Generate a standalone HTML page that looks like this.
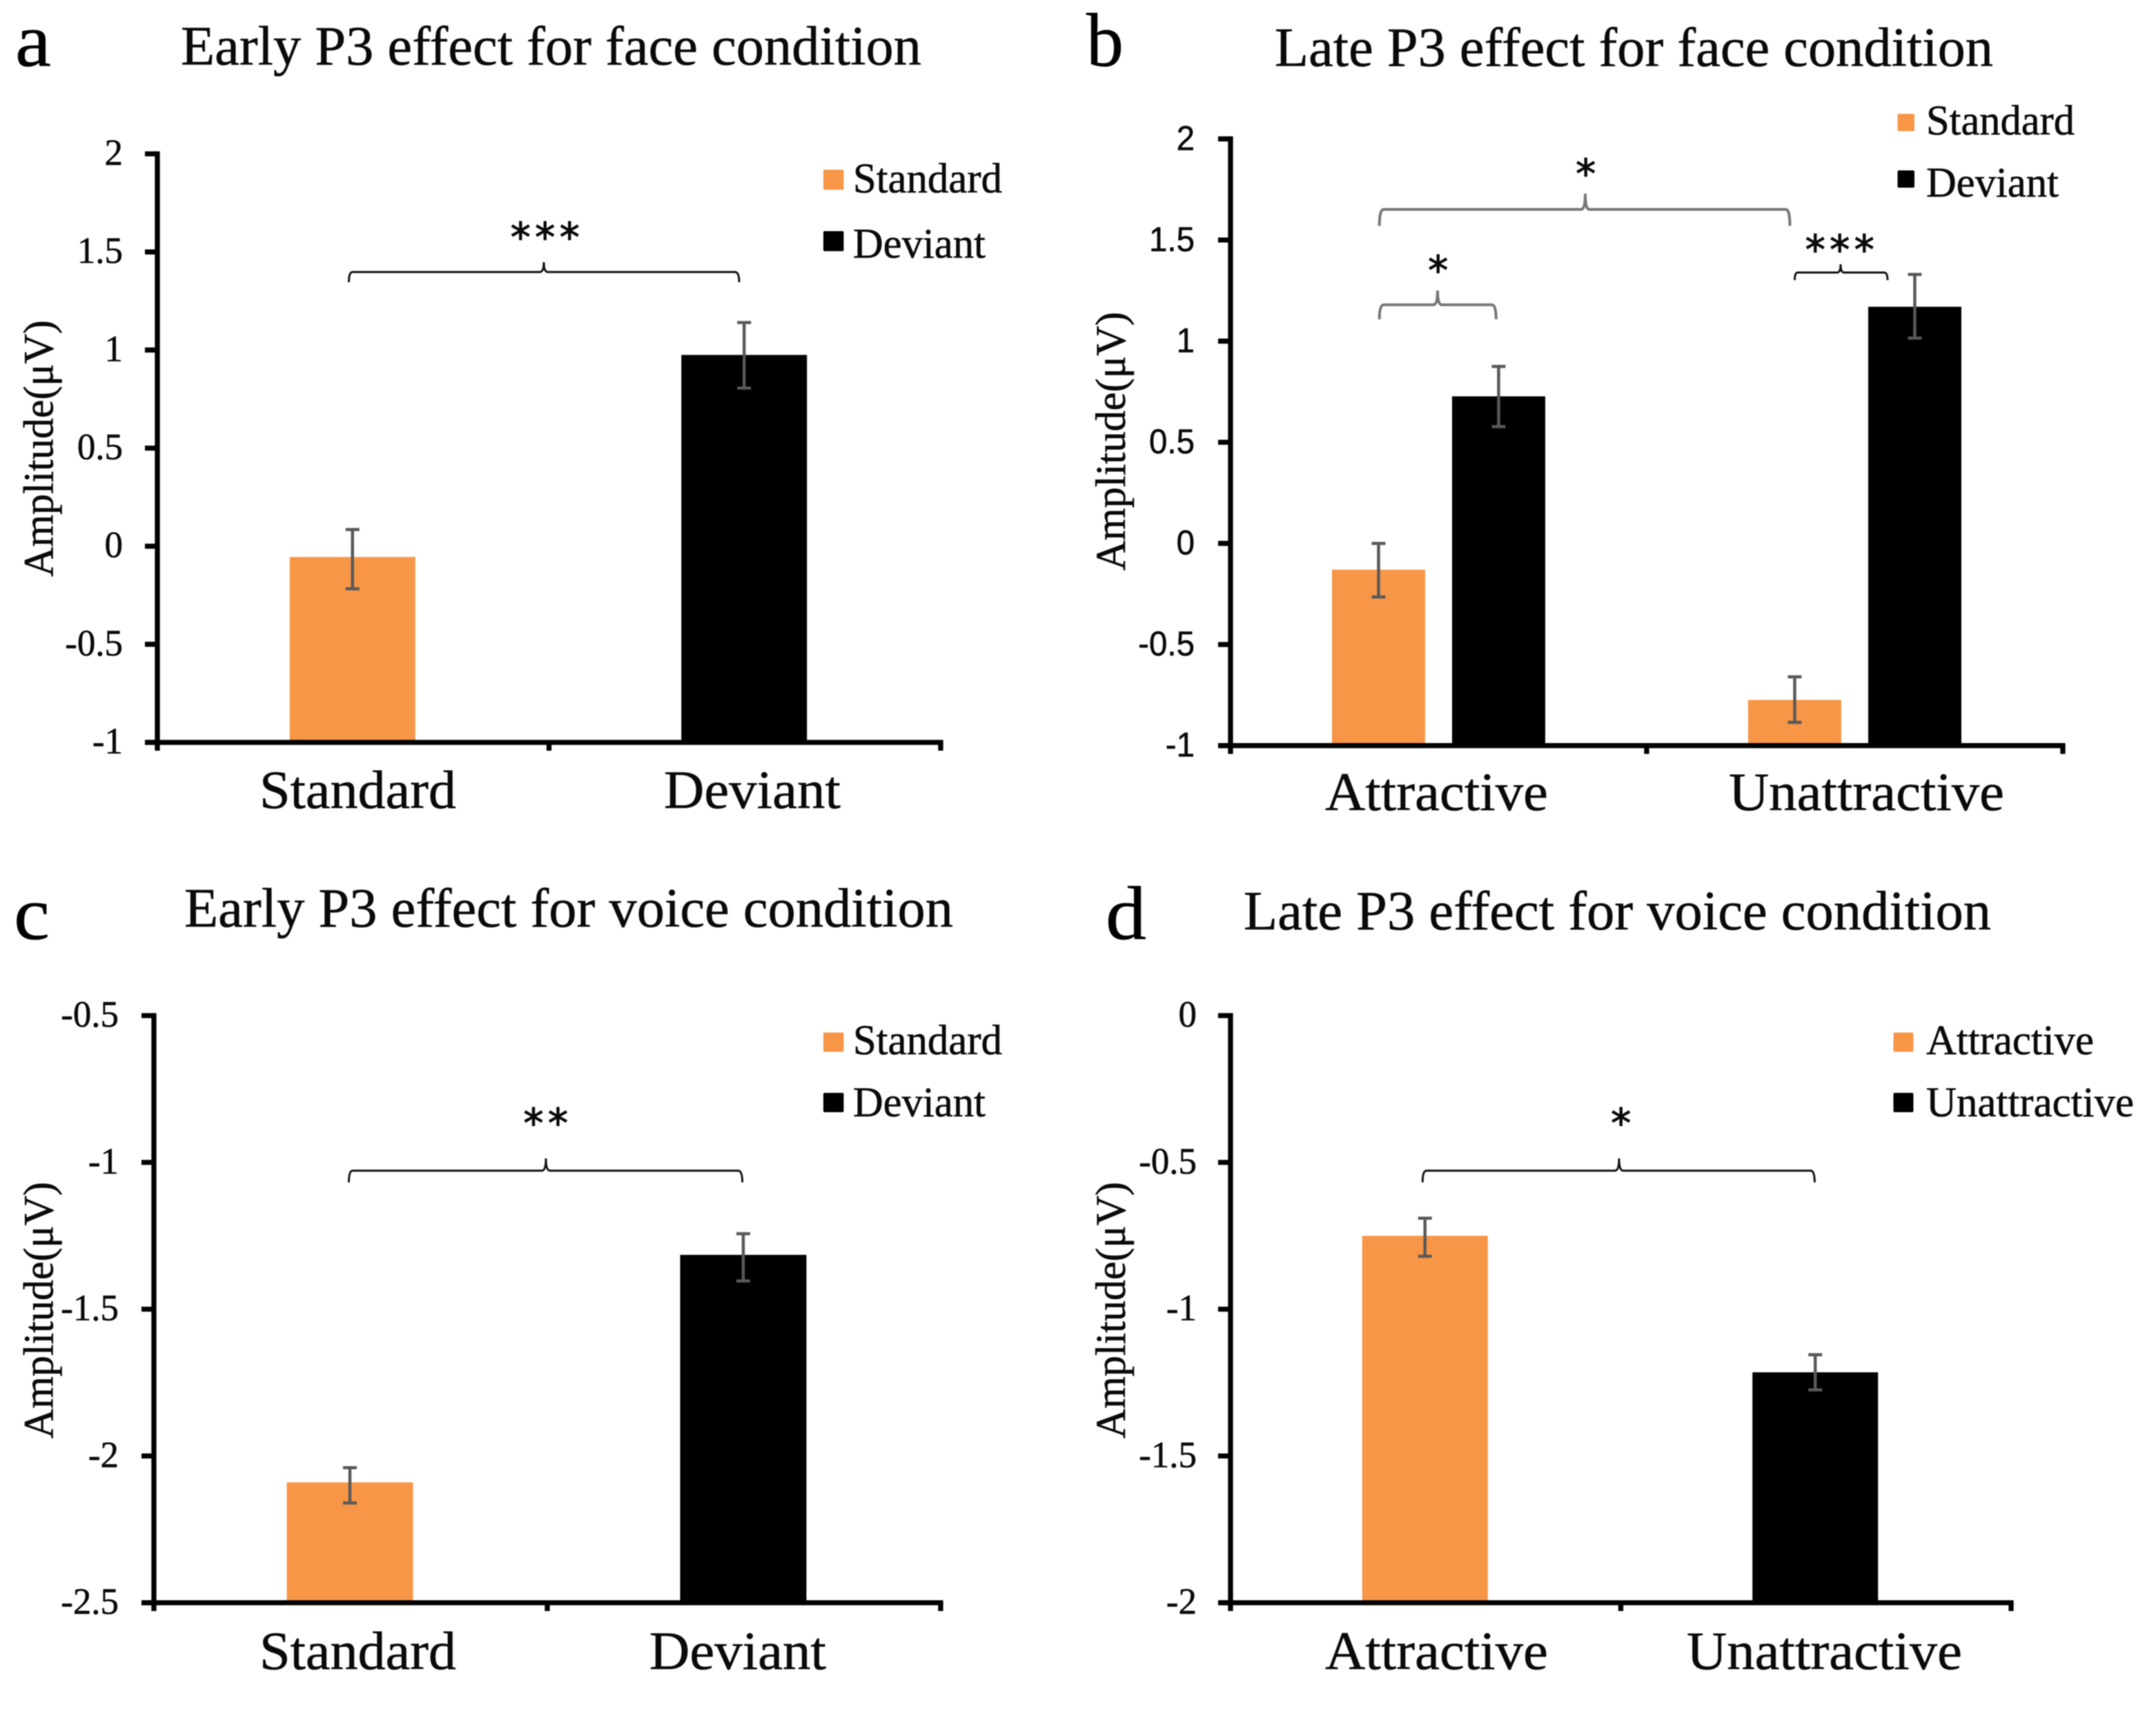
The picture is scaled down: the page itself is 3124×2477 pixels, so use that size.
<!DOCTYPE html>
<html lang="en">
<head>
<meta charset="utf-8">
<title>P3 effects for face and voice conditions</title>
<style>
html,body{margin:0;padding:0;background:#fff}
svg{display:block;filter:blur(0.7px)}
text{font-family:"Liberation Serif","Times New Roman",serif;fill:#0a0a0a;stroke:#0a0a0a;stroke-width:0.6px}
.title{font-size:80px}
.letter{font-size:110px;fill:#000}
.ytitle{font-size:61px}
.legend{font-size:61px}
.stars{font-size:58px;font-family:"DejaVu Sans",sans-serif;letter-spacing:6.5px;stroke-width:1.2px}
</style>
</head>
<body>
<svg id="figure" xmlns="http://www.w3.org/2000/svg" width="3124" height="2477" viewBox="0 0 3124 2477">
  <rect x="0" y="0" width="3124" height="2477" fill="#fff"/>

  <g id="panel-a">
    <text class="letter" x="22" y="95.5" textLength="52" lengthAdjust="spacingAndGlyphs">a</text>
    <text class="title" x="262" y="93.5" textLength="1073" lengthAdjust="spacingAndGlyphs">Early P3 effect for face condition</text>
    <text class="ytitle" transform="translate(76.5 836) rotate(-90)" x="0" y="0" textLength="372" lengthAdjust="spacingAndGlyphs">Amplitude(μV)</text>
    <rect x="1193" y="246" width="29.5" height="29" rx="2" fill="#F79646"/>
    <text class="legend" x="1236" y="279" textLength="216" lengthAdjust="spacingAndGlyphs">Standard</text>
    <rect x="1193" y="335" width="29.5" height="29" rx="2" fill="#000"/>
    <text class="legend" x="1236" y="373.5" textLength="192" lengthAdjust="spacingAndGlyphs">Deviant</text>
    <path fill="none" stroke="#111" stroke-width="3" d="M505.5 409Q505.5 394.3 511 394.3L782 394.3Q788 394.3 788 380Q788 394.3 794 394.3L1065 394.3Q1071 394.3 1071 409"/>
    <text class="stars" x="793" y="364" text-anchor="middle">***</text>
  </g>

  <g id="panel-b">
    <text class="letter" x="1574" y="95.5" textLength="54" lengthAdjust="spacingAndGlyphs">b</text>
    <text class="title" x="1847" y="95.5" textLength="1041" lengthAdjust="spacingAndGlyphs">Late P3 effect for face condition</text>
    <text class="ytitle" transform="translate(1630 827) rotate(-90)" x="0" y="0" textLength="375" lengthAdjust="spacingAndGlyphs">Amplitude(μV)</text>
    <rect x="2749.5" y="165" width="24.5" height="25" rx="2" fill="#F79646"/>
    <text class="legend" x="2791" y="195" textLength="215" lengthAdjust="spacingAndGlyphs">Standard</text>
    <rect x="2749.5" y="247" width="24.5" height="25" rx="2" fill="#000"/>
    <text class="legend" x="2791" y="285" textLength="192" lengthAdjust="spacingAndGlyphs">Deviant</text>
    <path fill="none" stroke="#777" stroke-width="4" d="M1998.7 327.4Q1998.7 303.5 2005 303.5L2291 303.5Q2297 303.5 2297 280.6Q2297 303.5 2303 303.5L2587.5 303.5Q2593.5 303.5 2593.5 327.4"/>
    <text class="stars" x="2301" y="272" text-anchor="middle">*</text>
    <path fill="none" stroke="#777" stroke-width="4" d="M1998.7 462.7Q1998.7 441.8 2005 441.8L2077 441.8Q2083 441.8 2083 421Q2083 441.8 2089 441.8L2161.8 441.8Q2167.8 441.8 2167.8 462.7"/>
    <text class="stars" x="2087" y="412" text-anchor="middle">*</text>
    <path fill="none" stroke="#111" stroke-width="3" d="M2600.5 406Q2600.5 395 2605 395L2662 395Q2667 395 2667 383Q2667 395 2672 395L2730 395Q2735 395 2735 406"/>
    <text class="stars" x="2669" y="382" text-anchor="middle">***</text>
  </g>

  <g id="panel-c">
    <text class="letter" x="20" y="1361" textLength="52" lengthAdjust="spacingAndGlyphs">c</text>
    <text class="title" x="267" y="1343" textLength="1114" lengthAdjust="spacingAndGlyphs">Early P3 effect for voice condition</text>
    <text class="ytitle" transform="translate(76.5 2085) rotate(-90)" x="0" y="0" textLength="372" lengthAdjust="spacingAndGlyphs">Amplitude(μV)</text>
    <rect x="1193" y="1496.5" width="29.5" height="28" rx="2" fill="#F79646"/>
    <text class="legend" x="1236" y="1528" textLength="216" lengthAdjust="spacingAndGlyphs">Standard</text>
    <rect x="1193" y="1584" width="29.5" height="28" rx="2" fill="#000"/>
    <text class="legend" x="1236" y="1618" textLength="192" lengthAdjust="spacingAndGlyphs">Deviant</text>
    <path fill="none" stroke="#111" stroke-width="3" d="M505.5 1713.7Q505.5 1696.8 511 1696.8L785 1696.8Q791 1696.8 791 1679Q791 1696.8 797 1696.8L1069.6 1696.8Q1075.6 1696.8 1075.6 1713.7"/>
    <text class="stars" x="794" y="1648" text-anchor="middle">**</text>
  </g>

  <g id="panel-d">
    <text class="letter" x="1602" y="1361" textLength="59" lengthAdjust="spacingAndGlyphs">d</text>
    <text class="title" x="1802" y="1347" textLength="1083" lengthAdjust="spacingAndGlyphs">Late P3 effect for voice condition</text>
    <text class="ytitle" transform="translate(1630 2085) rotate(-90)" x="0" y="0" textLength="372" lengthAdjust="spacingAndGlyphs">Amplitude(μV)</text>
    <rect x="2743.5" y="1496.5" width="29" height="28" rx="2" fill="#F79646"/>
    <text class="legend" x="2791" y="1528" textLength="243" lengthAdjust="spacingAndGlyphs">Attractive</text>
    <rect x="2743.5" y="1584" width="29" height="28" rx="2" fill="#000"/>
    <text class="legend" x="2791" y="1618" textLength="301" lengthAdjust="spacingAndGlyphs">Unattractive</text>
    <path fill="none" stroke="#111" stroke-width="3" d="M2061.3 1713.7Q2061.3 1696.8 2067 1696.8L2340 1696.8Q2346 1696.8 2346 1679Q2346 1696.8 2352 1696.8L2623.4 1696.8Q2629.4 1696.8 2629.4 1713.7"/>
    <text class="stars" x="2352" y="1648" text-anchor="middle">*</text>
  </g>
</svg>

<script>
// ---- Panel a data ----
const categoriesA = ['Standard', 'Deviant'];
const valuesA = [-0.055, 0.975];
const errHighA = [0.085, 1.14];
const errLowA = [-0.217, 0.806];
const tickLabelsA = ['-1', '-0.5', '0', '0.5', '1', '1.5', '2'];

// ---- Panel b data ----
const categoriesB = ['Attractive', 'Unattractive'];
const standardValuesB = [-0.13, -0.774];
const deviantValuesB = [0.727, 1.17];
const standardErrHighB = [0.0, -0.66];
const standardErrLowB = [-0.265, -0.885];
const deviantErrHighB = [0.875, 1.33];
const deviantErrLowB = [0.577, 1.015];
const tickLabelsB = ['-1', '-0.5', '0', '0.5', '1', '1.5', '2'];

// ---- Panel c data ----
const categoriesC = ['Standard', 'Deviant'];
const valuesC = [-2.09, -1.315];
const errHighC = [-2.04, -1.243];
const errLowC = [-2.16, -1.404];
const tickLabelsC = ['-2.5', '-2', '-1.5', '-1', '-0.5'];

// ---- Panel d data ----
const categoriesD = ['Attractive', 'Unattractive'];
const valuesD = [-0.75, -1.215];
const errHighD = [-0.69, -1.155];
const errLowD = [-0.82, -1.275];
const tickLabelsD = ['-2', '-1.5', '-1', '-0.5', '0'];

const ORANGE = '#F79646';
const BLACK = '#000000';
const SVGNS = 'http://www.w3.org/2000/svg';
const AXIS_WIDTH = 7.3;

function make(tag, attrs, parent) {
  const node = document.createElementNS(SVGNS, tag);
  for (const key in attrs) node.setAttribute(key, attrs[key]);
  parent.appendChild(node);
  return node;
}

function drawPanel(id, cfg) {
  const root = document.getElementById('panel-' + id);
  const bottom = cfg.bottom, top = cfg.top, x0 = cfg.x0, x1 = cfg.x1;
  const tickValues = cfg.ticks.map(parseFloat);
  const yMin = tickValues[0];
  const yMax = tickValues[tickValues.length - 1];
  const yScale = function (v) { return bottom - (v - yMin) / (yMax - yMin) * (bottom - top); };
  const nCat = cfg.categories.length;
  const catW = (x1 - x0) / nCat;
  const xCenter = function (i) { return x0 + (i + 0.5) * catW + cfg.barShift; };
  const nSeries = cfg.series.length;

  // bars
  cfg.series.forEach(function (s, si) {
    s.values.forEach(function (v, i) {
      const cx = xCenter(i) + (si - (nSeries - 1) / 2) * (cfg.barW + cfg.gap);
      const yTop = yScale(v);
      const bar = make('rect', { x: cx - cfg.barW / 2, y: yTop, width: cfg.barW, height: bottom - yTop, fill: s.colors[i] }, root);
      
      
    });
  });

  // error bars
  cfg.series.forEach(function (s, si) {
    s.values.forEach(function (v, i) {
      const cx = xCenter(i) + (si - (nSeries - 1) / 2) * (cfg.barW + cfg.gap);
      const yH = yScale(s.high[i]);
      const yL = yScale(s.low[i]);
      const d = 'M' + (cx - 10) + ' ' + yH + 'H' + (cx + 10) + 'M' + cx + ' ' + yH + 'V' + yL + 'M' + (cx - 10) + ' ' + yL + 'H' + (cx + 10);
      const err = make('path', { d: d, fill: 'none', stroke: '#595959', 'stroke-width': 4.5 }, root);
      
      
    });
  });

  // y axis line, ticks and labels
  const yAxis = make('line', { x1: x0, x2: x0, y1: top - AXIS_WIDTH / 2, y2: bottom, stroke: '#000', 'stroke-width': AXIS_WIDTH }, root);
  
  
  cfg.ticks.forEach(function (label, i) {
    const y = yScale(tickValues[i]);
    const tick = make('line', { x1: x0 - 18, x2: x0, y1: y, y2: y, stroke: '#000', 'stroke-width': AXIS_WIDTH }, root);
    
    
    const txt = make('text', { x: 0, y: 0, transform: 'translate(' + cfg.tickLabelX + ' ' + (y + 16) + ') scale(' + cfg.tickStretch + ' 1)', 'text-anchor': 'end', style: 'font-size:' + cfg.tickSize + 'px;font-family:' + cfg.tickFont }, root);
    txt.textContent = label;
    
    
  });

  // x axis line, ticks and labels
  const xAxis = make('line', { x1: x0 - 18, x2: x1 + AXIS_WIDTH / 2, y1: bottom, y2: bottom, stroke: '#000', 'stroke-width': AXIS_WIDTH }, root);
  
  
  for (let i = 0; i <= nCat; i++) {
    const x = x0 + i * catW;
    const xt = make('line', { x1: x, x2: x, y1: bottom, y2: bottom + 12, stroke: '#000', 'stroke-width': AXIS_WIDTH }, root);
    
    
  }
  cfg.categories.forEach(function (label, i) {
    const t = make('text', { x: cfg.catX[i], y: cfg.catBaseline, textLength: cfg.catW[i], lengthAdjust: 'spacingAndGlyphs', style: 'font-size:78px' }, root);
    t.textContent = label;
    
    
  });
}

const SERIF = '"Liberation Serif",serif';
const SANS = '"Liberation Sans",sans-serif';

drawPanel('a', {
  categories: categoriesA, ticks: tickLabelsA,
  series: [{ name: 'amplitude', values: valuesA, high: errHighA, low: errLowA, colors: [ORANGE, BLACK] }],
  x0: 228, x1: 1363, top: 223, bottom: 1076, barW: 182, gap: 0, barShift: -1,
  tickLabelX: 178, tickSize: 54, tickStretch: 0.98, tickFont: SERIF,
  catX: [376, 962], catW: [285, 256], catBaseline: 1171
});
drawPanel('b', {
  categories: categoriesB, ticks: tickLabelsB,
  series: [
    { name: 'standard', values: standardValuesB, high: standardErrHighB, low: standardErrLowB, colors: [ORANGE, ORANGE] },
    { name: 'deviant', values: deviantValuesB, high: deviantErrHighB, low: deviantErrLowB, colors: [BLACK, BLACK] }
  ],
  x0: 1783, x1: 2989, top: 201.3, bottom: 1080.7, barW: 135, gap: 39, barShift: 0,
  tickLabelX: 1731, tickSize: 50, tickStretch: 0.95, tickFont: SANS,
  catX: [1920, 2505], catW: [323, 399], catBaseline: 1174
});
drawPanel('c', {
  categories: categoriesC, ticks: tickLabelsC,
  series: [{ name: 'amplitude', values: valuesC, high: errHighC, low: errLowC, colors: [ORANGE, BLACK] }],
  x0: 223, x1: 1363, top: 1472, bottom: 2323, barW: 183, gap: 0, barShift: -1,
  tickLabelX: 172, tickSize: 54, tickStretch: 0.98, tickFont: SERIF,
  catX: [376, 941], catW: [285, 256], catBaseline: 2419
});
drawPanel('d', {
  categories: categoriesD, ticks: tickLabelsD,
  series: [{ name: 'amplitude', values: valuesD, high: errHighD, low: errLowD, colors: [ORANGE, BLACK] }],
  x0: 1783, x1: 2914, top: 1472, bottom: 2323, barW: 182, gap: 0, barShift: -1,
  tickLabelX: 1734, tickSize: 54, tickStretch: 0.98, tickFont: SERIF,
  catX: [1920, 2444], catW: [323, 399], catBaseline: 2419
});
</script>
</body>
</html>
